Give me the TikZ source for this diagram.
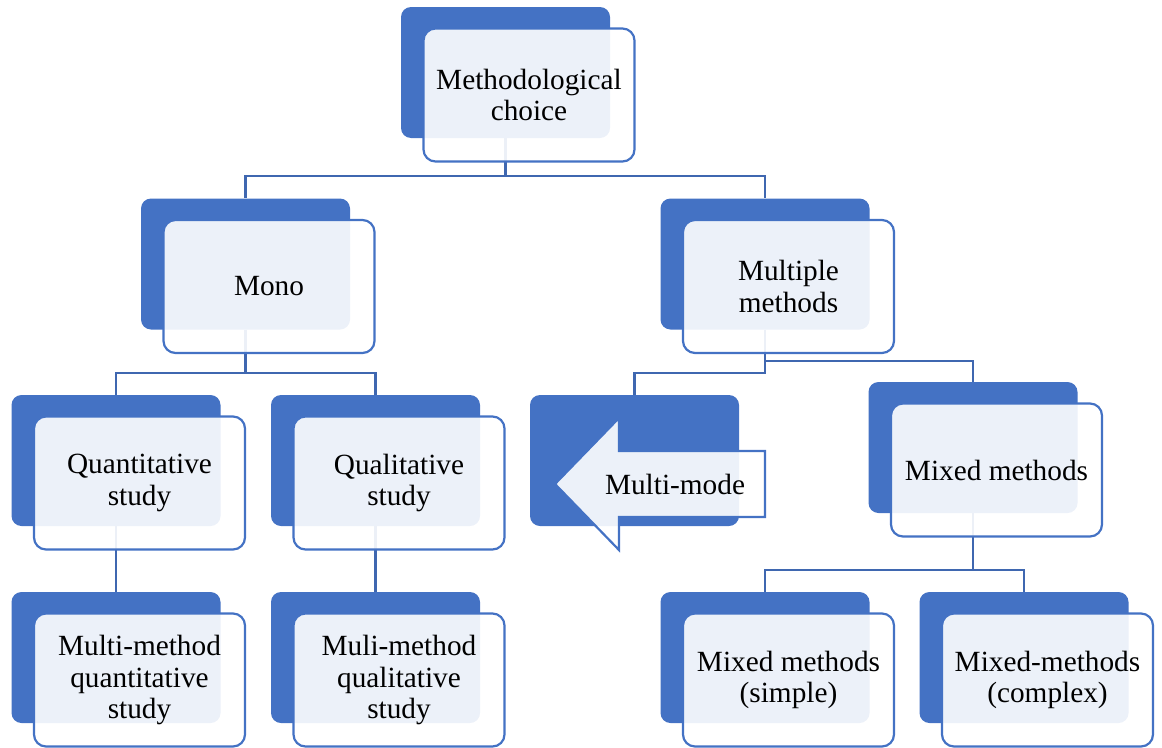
\documentclass[tikz,border=0pt]{standalone}
\usepackage{fontspec}
\setmainfont{Liberation Serif}
\definecolor{accent}{HTML}{4472C4}
\definecolor{linkblue}{HTML}{3F67B0}
\tikzset{
  backbox/.style={fill=accent, rounded corners=10pt, minimum width=209pt,
    minimum height=131pt, inner sep=0pt},
  frontbox/.style={draw=accent, line width=2.2pt, fill=white, fill opacity=0.9,
    text opacity=1, rounded corners=12pt, minimum width=211pt, minimum height=133pt,
    inner sep=0pt, align=center, font=\fontsize{29.3}{31.5}\selectfont},
  frontshape/.style={draw=accent, line width=2.2pt, fill=white, fill opacity=0.9},
  label/.style={inner sep=0pt, align=center, font=\fontsize{29.3}{31.5}\selectfont},
  link/.style={draw=linkblue, line width=2.4pt}
}
\begin{document}
\begin{tikzpicture}[x=1pt,y=-1pt]
\useasboundingbox (0,0) rectangle (1162,747);

% back (solid) panels
\node[backbox] (b-top)     at (505.5,72.5) {};
\node[backbox] (b-mono)    at (245.5,264) {};
\node[backbox] (b-mult)    at (765,264) {};
\node[backbox] (b-quant)   at (116,460.5) {};
\node[backbox] (b-qual)    at (375.5,460.5) {};
\node[backbox] (b-mode)    at (634.5,460.5) {};
\node[backbox] (b-mixed)   at (973,447.5) {};
\node[backbox] (b-mmquant) at (116,657.5) {};
\node[backbox] (b-mmqual)  at (375.5,657.5) {};
\node[backbox] (b-simple)  at (765,657.5) {};
\node[backbox] (b-complex) at (1024,657.5) {};

% hierarchy connectors
\draw[link] (b-top.south) -- ++(0,38) -| (b-mono.north);
\draw[link] (b-top.south) -- ++(0,38) -| (b-mult.north);
\draw[link] (b-mono.south) -- ++(0,43) -| (b-quant.north);
\draw[link] (b-mono.south) -- ++(0,43) -| (b-qual.north);
\draw[link] (b-mult.south) -- ++(0,43) -| (b-mode.north);
\draw[link] (b-mult.south) -- ++(0,31) -| (b-mixed.north);
\draw[link] (b-quant.south) -- (b-mmquant.north);
\draw[link] (b-qual.south) -- (b-mmqual.north);
\draw[link] (b-mixed.south) -- ++(0,57) -| (b-simple.north);
\draw[link] (b-mixed.south) -- ++(0,57) -| (b-complex.north);

% front (translucent) panels with the labels
\node[frontbox] (f-top)     at (529,95) {Methodological\\choice};
\node[frontbox] (f-mono)    at (269,286.5) {Mono};
\node[frontbox] (f-mult)    at (788.5,286.5) {Multiple\\methods};
\node[frontbox] (f-quant)   at (139.5,483) {Quantitative\\study};
\node[frontbox] (f-qual)    at (399,483) {Qualitative\\study};
\node[frontbox] (f-mixed)   at (996.5,470) {Mixed methods};
\node[frontbox] (f-mmquant) at (139.5,680) {Multi-method\\quantitative\\study};
\node[frontbox] (f-mmqual)  at (399,680) {Muli-method\\qualitative\\study};
\node[frontbox] (f-simple)  at (788.5,680) {Mixed methods\\(simple)};
\node[frontbox] (f-complex) at (1047.5,680) {Mixed-methods\\(complex)};

% left-pointing arrow panel
\path[frontshape] (555,484) -- (619,418) -- (619,451) -- (765,451)
  -- (765,517) -- (619,517) -- (619,550) -- cycle;
\node[label] (f-mode) at (675,484) {Multi-mode};
\end{tikzpicture}
\end{document}
